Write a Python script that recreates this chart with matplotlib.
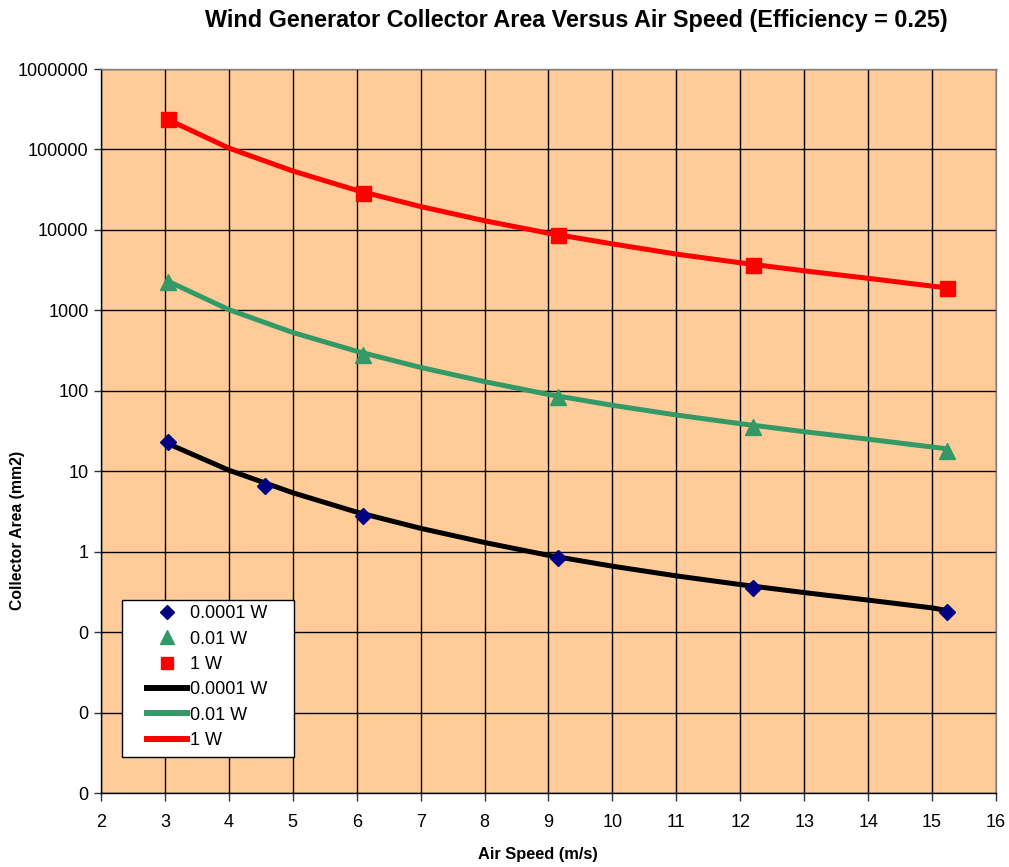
import matplotlib
matplotlib.use("Agg")
import matplotlib.pyplot as plt
from matplotlib.ticker import FixedLocator, FuncFormatter
from matplotlib.lines import Line2D
from matplotlib.patches import Rectangle

plt.rcParams['font.family'] = ['Liberation Sans', 'DejaVu Sans']

# Marker data (air speed m/s, collector area mm2)
speed_low_pts = [3.048, 4.572, 6.096, 9.144, 12.192, 15.24]
area_low_pts = [23, 6.6, 2.8, 0.84, 0.35, 0.18]
speed_pts = [3.048, 6.096, 9.144, 12.192, 15.24]
area_mid_pts = [2250, 280, 84, 35, 18]
area_high_pts = [240000, 29000, 8700, 3650, 1900]

# Line data
speed_line = [3.048, 4, 5, 6, 7, 8, 9, 10, 11, 12, 13, 14, 15, 15.24]
area_high_line = [235000, 104000, 54000, 31000, 19500, 13000, 9100, 6700, 5000, 3900, 3100, 2500, 2000, 1900]
area_mid_line = [2300, 1020, 530, 310, 195, 130, 90, 66, 50, 39, 31, 25, 20, 19]
area_low_line = [22, 10.3, 5.4, 3.1, 1.95, 1.3, 0.9, 0.66, 0.5, 0.39, 0.31, 0.25, 0.2, 0.185]

x_ticks = list(range(2, 17))
y_ticks = [0.001, 0.01, 0.1, 1, 10, 100, 1000, 10000, 100000, 1000000]

W, H = 1009, 867
fig = plt.figure(figsize=(W/100, H/100), dpi=100)
ax = fig.add_axes([101/W, 1-793/H, (996-101)/W, (793-69)/H])
ax.set_facecolor('#FFCC99')

ax.plot(speed_line, area_low_line, color='black', lw=3.6, zorder=3)
ax.plot(speed_line, area_mid_line, color='#339966', lw=3.6, zorder=3)
ax.plot(speed_line, area_high_line, color='#FF0000', lw=3.6, zorder=3)
ax.plot(speed_low_pts, area_low_pts, 'D', color='#000080', ms=8, ls='none', zorder=4)
ax.plot(speed_pts, area_mid_pts, '^', color='#339966', ms=12, ls='none', zorder=4)
ax.plot(speed_pts, area_high_pts, 's', color='#FF0000', ms=10.8, ls='none', zorder=4)

ax.set_yscale('log')
ax.set_xlim(2, 16)
ax.set_ylim(0.001, 1000000)
ax.xaxis.set_major_locator(FixedLocator(x_ticks))
ax.yaxis.set_major_locator(FixedLocator(y_ticks))
ax.yaxis.set_minor_locator(FixedLocator([]))
ax.yaxis.set_major_formatter(FuncFormatter(lambda v, p: f"{v:.0f}"))
ax.grid(True, color='black', lw=1.0, zorder=1)
ax.set_axisbelow(True)
ax.tick_params(axis='y', direction='out', length=5, width=1, color='#333333', labelsize=13, pad=4)
ax.tick_params(axis='x', direction='out', length=6, width=1, color='#333333', labelsize=13, pad=9)
for s in ax.spines.values():
    s.set_color('#808080')
    s.set_linewidth(1)
ax.spines['left'].set_color('black')
ax.spines['bottom'].set_color('black')

fig.text(576/W, 1-21/H, 'Wind Generator Collector Area Versus Air Speed (Efficiency = 0.25)',
         ha='center', va='center', fontsize=16.8, fontweight='bold')
fig.text(538/W, 1-855/H, 'Air Speed (m/s)', ha='center', va='center', fontsize=11.8, fontweight='bold')
fig.text(18/W, 1-530/H, 'Collector Area (mm2)', ha='center', va='center', rotation=90,
         fontsize=11.3, fontweight='bold')

# legend frame
fig.patches.append(Rectangle((122/W, 1-757/H), (294-122)/W, (757-600)/H,
                             transform=fig.transFigure, facecolor='white', edgecolor='black',
                             lw=1, zorder=2))

handles = [
    Line2D([], [], marker='D', color='#000080', ls='none', ms=7.3),
    Line2D([], [], marker='^', color='#339966', ls='none', ms=10.5),
    Line2D([], [], marker='s', color='#FF0000', ls='none', ms=9),
    Line2D([], [], color='black', lw=4.3),
    Line2D([], [], color='#339966', lw=4.3),
    Line2D([], [], color='#FF0000', lw=4.3),
]
labels = ['0.0001 W', '0.01 W', '1 W', '0.0001 W', '0.01 W', '1 W']
fs = 13
leg = fig.legend(handles, labels, loc='upper left', bbox_to_anchor=(142/W, 1-600/H),
                 fontsize=fs, frameon=False,
                 handlelength=2.17, handletextpad=0.2, labelspacing=0.46, borderpad=0.3,
                 borderaxespad=0)
leg.set_zorder(5)

fig.savefig('out.png', dpi=100)
